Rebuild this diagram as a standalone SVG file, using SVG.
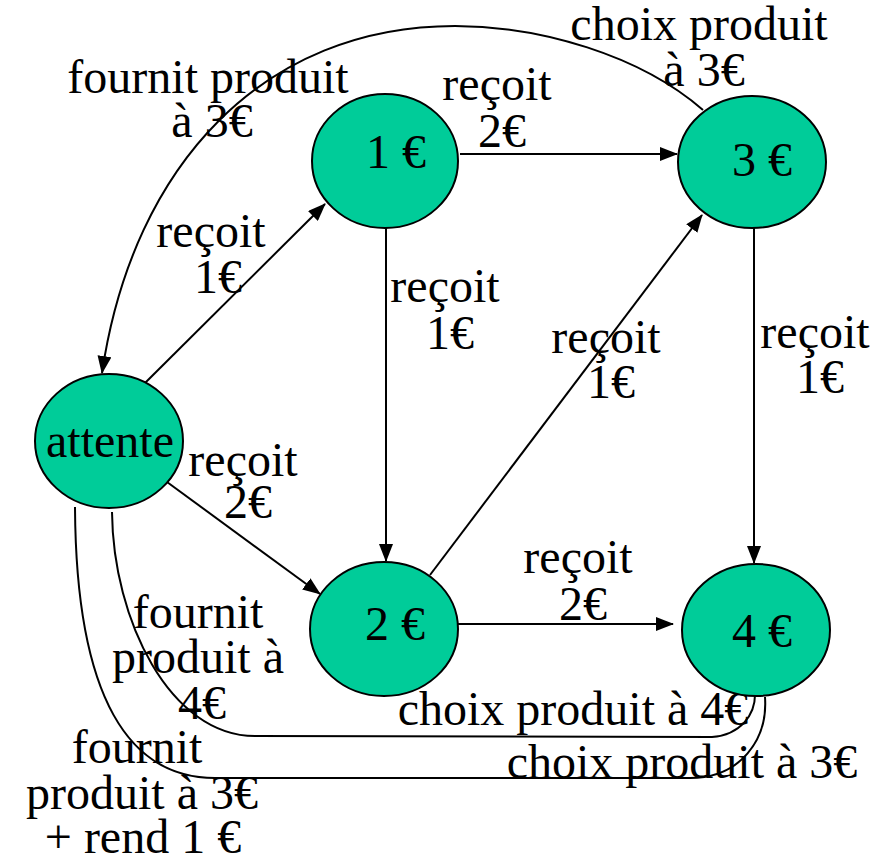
<svg xmlns="http://www.w3.org/2000/svg" width="890" height="859" viewBox="0 0 890 859">
<style>
.node{fill:#00CC99;stroke:#000;stroke-width:2}
.lbl{font-family:"Liberation Serif","Times New Roman","DejaVu Serif",serif;font-size:48px;fill:#000;text-anchor:middle}
.edge{fill:none;stroke:#000;stroke-width:2}
.arr{marker-end:url(#ah)}
</style>
<defs>
<marker id="ah" markerWidth="18" markerHeight="14" refX="17" refY="7" orient="auto" markerUnits="userSpaceOnUse">
<path d="M0,0 L18,7 L0,14 Z" fill="#000"/>
</marker>
</defs>
<rect width="890" height="859" fill="#fff"/>
<g id="connectors">
<path class="edge arr" d="M145,383 L325,204"/>
<path class="edge arr" d="M460,154 L677,154"/>
<path class="edge arr" d="M386,228 L386,561"/>
<path class="edge arr" d="M430,575 L702,215"/>
<path class="edge arr" d="M754,228 L754,563"/>
<path class="edge arr" d="M458,624 L673,624"/>
<path class="edge arr" d="M167,482 L320,594"/>
<path class="edge arr" d="M703,110 C640,55 540,26 455,26 C265,26 133,163 102,373"/>
<path class="edge" d="M112,512 C113,620 170,736 255,736 L712,737 C740,735 756,715 755,692"/>
<path class="edge" d="M75,507 C76,700 130,778 215,778 L690,778 C740,778 768,740 765,697"/>
<text class="lbl" x="208" y="93">fournit produit</text>
<text class="lbl" x="212" y="137">à 3€</text>
<text class="lbl" x="497" y="100">reçoit</text>
<text class="lbl" x="502" y="147">2€</text>
<text class="lbl" x="699" y="40">choix produit</text>
<text class="lbl" x="704" y="86">à 3€</text>
<text class="lbl" x="211" y="247">reçoit</text>
<text class="lbl" x="218" y="293">1€</text>
<text class="lbl" x="445" y="302">reçoit</text>
<text class="lbl" x="450" y="349">1€</text>
<text class="lbl" x="606" y="353">reçoit</text>
<text class="lbl" x="611" y="398">1€</text>
<text class="lbl" x="815" y="348">reçoit</text>
<text class="lbl" x="820" y="393">1€</text>
<text class="lbl" x="243" y="476">reçoit</text>
<text class="lbl" x="248" y="518">2€</text>
<text class="lbl" x="578" y="573">reçoit</text>
<text class="lbl" x="583" y="620">2€</text>
<text class="lbl" x="198" y="628">fournit</text>
<text class="lbl" x="198" y="673">produit à</text>
<text class="lbl" x="202" y="719">4€</text>
<text class="lbl" x="137" y="763">fournit</text>
<text class="lbl" x="142" y="809">produit à 3€</text>
<text class="lbl" x="143" y="853">+ rend 1 €</text>
<text class="lbl" x="573" y="725">choix produit à 4€</text>
<text class="lbl" x="682" y="778">choix produit à 3€</text>
</g>
<g id="n-attente">
<ellipse class="node" cx="109" cy="441" rx="74" ry="67"/>
<text class="lbl" x="110" y="457">attente</text>
</g>
<g id="n-1">
<ellipse class="node" cx="385" cy="161" rx="73" ry="67"/>
<text class="lbl" x="396" y="168">1 €</text>
</g>
<g id="n-3">
<ellipse class="node" cx="752" cy="162" rx="74" ry="66"/>
<text class="lbl" x="762" y="176">3 €</text>
</g>
<g id="n-2">
<ellipse class="node" cx="384" cy="629" rx="74" ry="67"/>
<text class="lbl" x="395" y="640">2 €</text>
</g>
<g id="n-4">
<ellipse class="node" cx="756" cy="630" rx="74" ry="66"/>
<text class="lbl" x="762" y="647">4 €</text>
</g>
</svg>
